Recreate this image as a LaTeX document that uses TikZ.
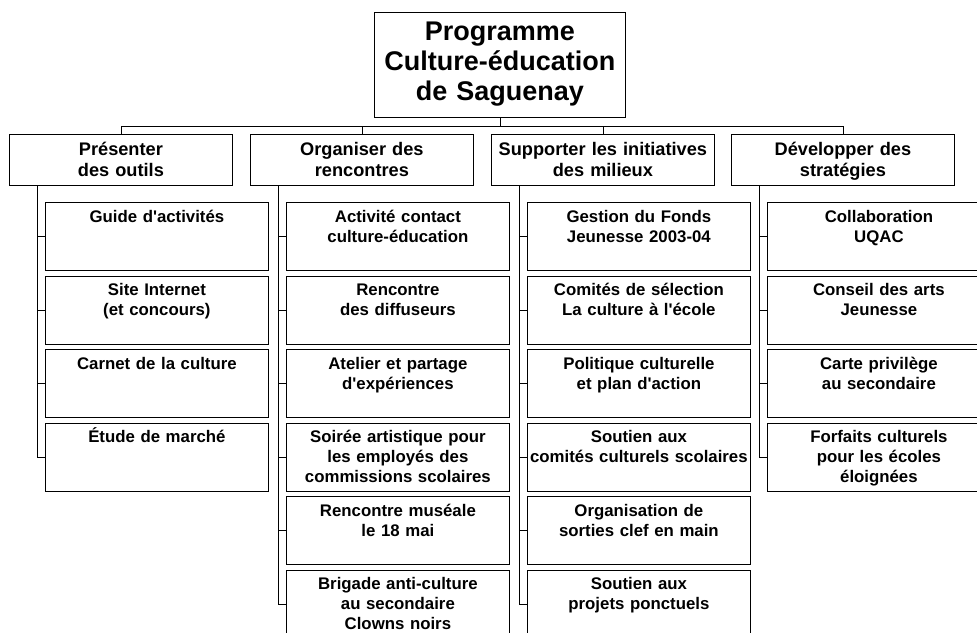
\documentclass[tikz,border=0pt]{standalone}
\usepackage{fontspec}
\setmainfont{Liberation Sans}
\begin{document}
\begin{tikzpicture}[x=1pt,y=1pt]
\tikzstyle{every node}+=[inner sep=0pt]
\tikzstyle{boite}=[draw=black, line width=0.8pt, rectangle, align=center, anchor=north west]
\tikzstyle{titre}=[boite, minimum width=251pt, text width=249pt, text height=28.5pt, text depth=76.5pt, font=\bfseries\fontsize{27}{30}\selectfont]
\tikzstyle{axe}=[boite, minimum width=223pt, text width=221pt, text height=21pt, text depth=30pt, font=\bfseries\fontsize{18.2}{20.7}\selectfont]
\tikzstyle{action}=[boite, minimum width=223pt, text width=222pt, text height=20pt, text depth=48pt, font=\bfseries\fontsize{16.8}{20}\selectfont]
\tikzstyle{lien}=[draw=black, line width=0.8pt]
\useasboundingbox (0,0) rectangle (977,-632);
\clip (0,0) rectangle (977,-632);
\node [titre] (programme) at (374,-12) {Programme\\Culture-éducation\\de Saguenay};
\node [axe] (outils) at (9,-134) {Présenter\\des outils};
\node [axe] (rencontres) at (250,-134) {Organiser des\\rencontres};
\node [axe] (milieux) at (491,-134) {Supporter les initiatives\\des milieux};
\node [axe] (strategies) at (731,-134) {Développer des\\stratégies};
\node [action] (o1) at (45,-202) {Guide d\textquotesingle activités};
\node [action] (o2) at (45,-275.5) {Site Internet\\(et concours)};
\node [action] (o3) at (45,-349) {Carnet de la culture};
\node [action] (o4) at (45,-422.5) {Étude de marché};
\node [action] (r1) at (286,-202) {Activité contact\\culture-éducation};
\node [action] (r2) at (286,-275.5) {Rencontre\\des diffuseurs};
\node [action] (r3) at (286,-349) {Atelier et partage\\d\textquotesingle expériences};
\node [action] (r4) at (286,-422.5) {Soirée artistique pour\\les employés des\\commissions scolaires};
\node [action] (r5) at (286,-496) {Rencontre muséale\\le 18 mai};
\node [action] (r6) at (286,-569.5) {Brigade anti-culture\\au secondaire\\Clowns noirs};
\node [action] (m1) at (527,-202) {Gestion du Fonds\\Jeunesse 2003-04};
\node [action] (m2) at (527,-275.5) {Comités de sélection\\La culture à l\textquotesingle école};
\node [action] (m3) at (527,-349) {Politique culturelle\\et plan d\textquotesingle action};
\node [action] (m4) at (527,-422.5) {Soutien aux\\comités culturels scolaires};
\node [action] (m5) at (527,-496) {Organisation de\\sorties clef en main};
\node [action] (m6) at (527,-569.5) {Soutien aux\\projets ponctuels};
\node [action] (s1) at (767,-202) {Collaboration\\UQAC};
\node [action] (s2) at (767,-275.5) {Conseil des arts\\Jeunesse};
\node [action] (s3) at (767,-349) {Carte privilège\\au secondaire};
\node [action] (s4) at (767,-422.5) {Forfaits culturels\\pour les écoles\\éloignées};
\draw [lien] (programme.south) -- ++(0,-9) -| (outils.north);
\draw [lien] (programme.south) -- ++(0,-9) -| (rencontres.north);
\draw [lien] (programme.south) -- ++(0,-9) -| (milieux.north);
\draw [lien] (programme.south) -- ++(0,-9) -| (strategies.north);
\draw [lien] ([xshift=28pt]outils.south west) |- (o1.west);
\draw [lien] ([xshift=28pt]outils.south west) |- (o2.west);
\draw [lien] ([xshift=28pt]outils.south west) |- (o3.west);
\draw [lien] ([xshift=28pt]outils.south west) |- (o4.west);
\draw [lien] ([xshift=28pt]rencontres.south west) |- (r1.west);
\draw [lien] ([xshift=28pt]rencontres.south west) |- (r2.west);
\draw [lien] ([xshift=28pt]rencontres.south west) |- (r3.west);
\draw [lien] ([xshift=28pt]rencontres.south west) |- (r4.west);
\draw [lien] ([xshift=28pt]rencontres.south west) |- (r5.west);
\draw [lien] ([xshift=28pt]rencontres.south west) |- (r6.west);
\draw [lien] ([xshift=28pt]milieux.south west) |- (m1.west);
\draw [lien] ([xshift=28pt]milieux.south west) |- (m2.west);
\draw [lien] ([xshift=28pt]milieux.south west) |- (m3.west);
\draw [lien] ([xshift=28pt]milieux.south west) |- (m4.west);
\draw [lien] ([xshift=28pt]milieux.south west) |- (m5.west);
\draw [lien] ([xshift=28pt]milieux.south west) |- (m6.west);
\draw [lien] ([xshift=28pt]strategies.south west) |- (s1.west);
\draw [lien] ([xshift=28pt]strategies.south west) |- (s2.west);
\draw [lien] ([xshift=28pt]strategies.south west) |- (s3.west);
\draw [lien] ([xshift=28pt]strategies.south west) |- (s4.west);
\end{tikzpicture}
\end{document}
